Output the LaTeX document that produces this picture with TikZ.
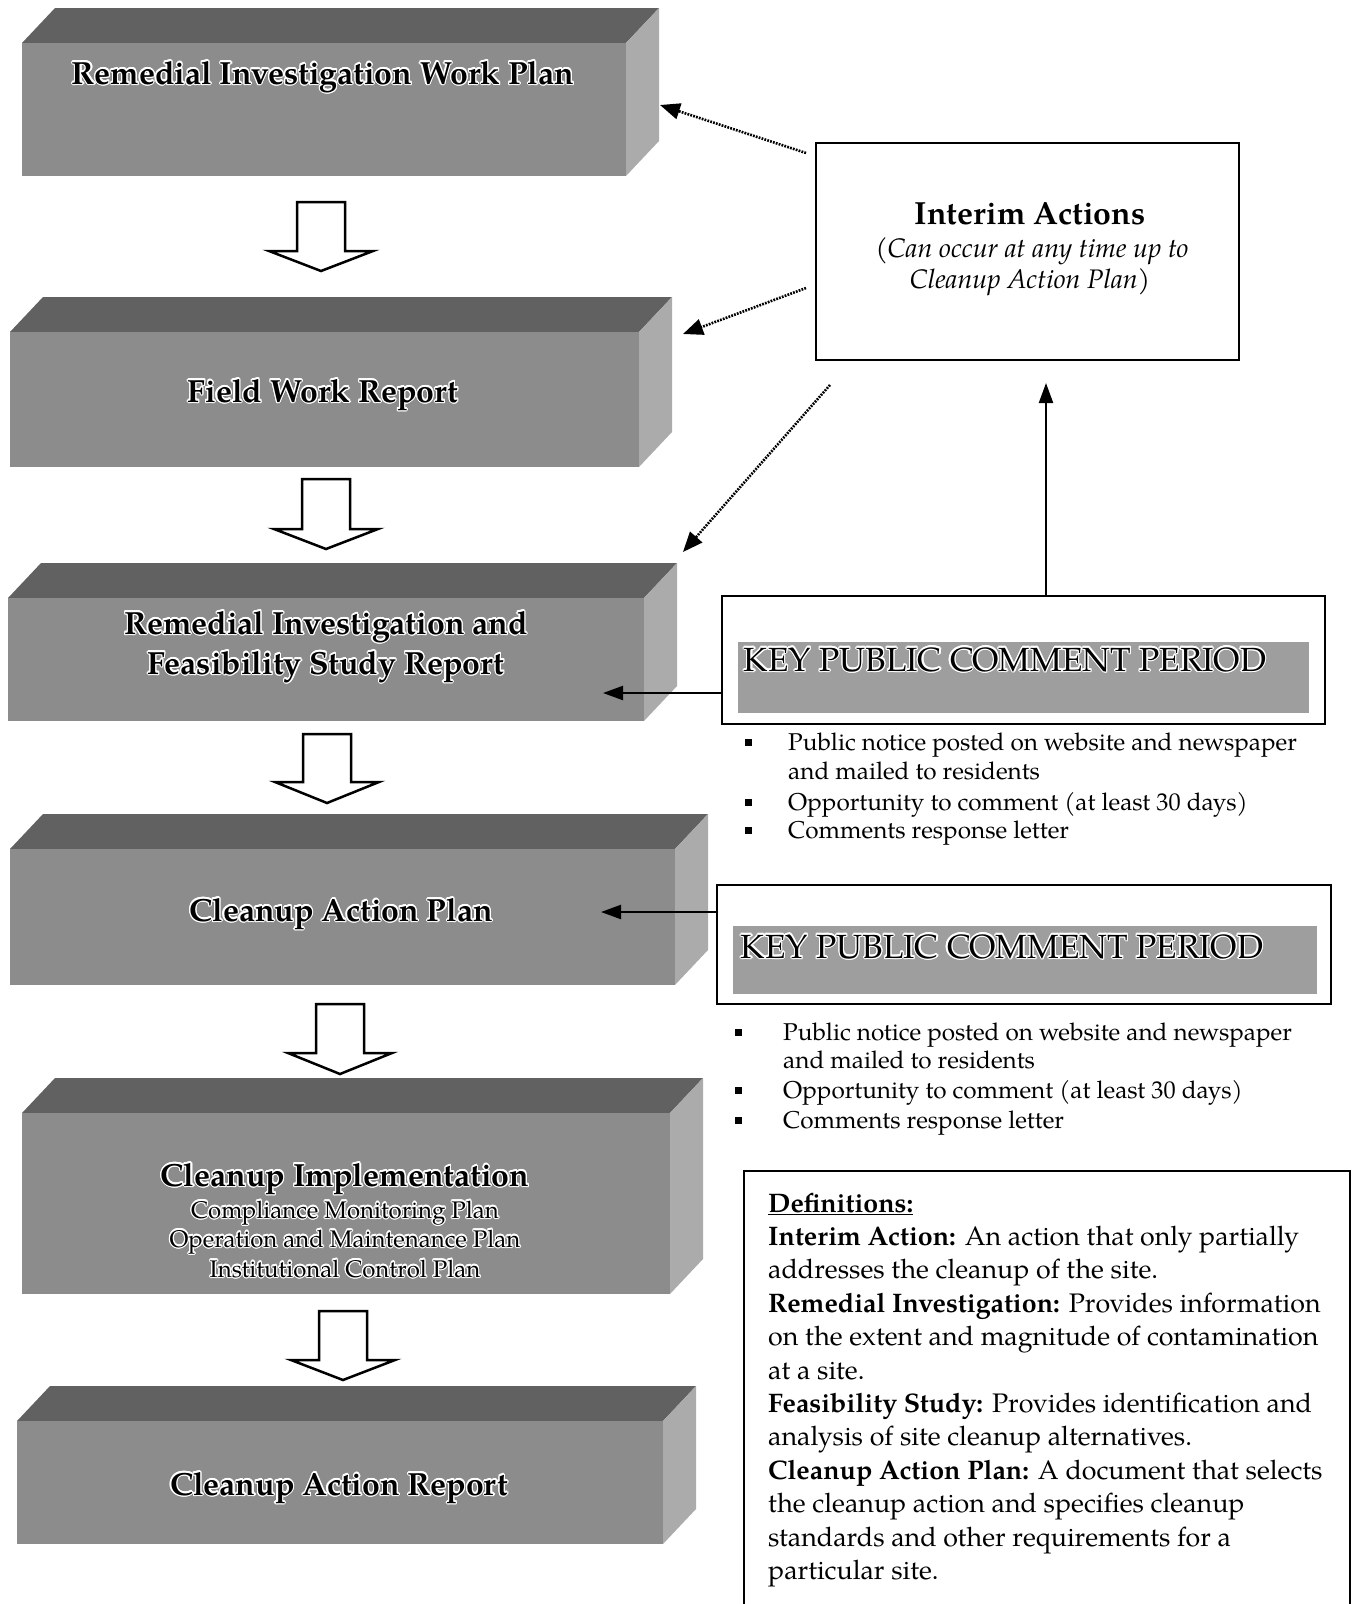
\documentclass[tikz,border=0pt]{standalone}
\usepackage{fontspec}
\setmainfont{TeX Gyre Pagella}
\usepackage[copies]{contour}
\contourlength{1.2pt}
\usetikzlibrary{arrows.meta}
\newcommand\halo[1]{\contour{white}{#1}}
\newcommand\slab[5]{%
  \fill[topf] (#1,#2) -- ({#1+33},{#2-35}) -- ({#3+33},{#2-35}) -- (#3,#2) -- cycle;
  \fill[sidef] (#3,#2) -- ({#3+33},{#2-35}) -- ({#3+33},{#4-35}) -- (#3,#4) -- cycle;
  \fill[frontf] (#1,#2) rectangle (#3,#4);
  \coordinate (#5) at ({(#1+#3)/2},{(#2+#4)/2});
}
\newcommand\blockarrow[5]{%
  \draw[blk] ({#1-24},#2) -- ({#1+24},#2) -- ({#1+24},#3) -- ({#1+52},#3) -- (#1,#4) -- ({#1-52},#3) -- ({#1-24},#3) -- cycle;
  \coordinate (#5) at (#1,#4);
}
\begin{document}
\begin{tikzpicture}[x=1pt,y=-1pt,
  frontf/.style={fill=black!45},
  topf/.style={fill=black!62},
  sidef/.style={fill=black!33},
  btitle/.style={anchor=base, inner sep=0pt, font=\fontsize{32}{36}\selectfont\bfseries},
  bsub/.style={anchor=base, inner sep=0pt, font=\fontsize{24}{28}\selectfont},
  blk/.style={draw=black, line width=2.5pt, fill=white, line join=miter},
  dotarr/.style={line width=2.6pt, dash pattern=on 1.8pt off 1.2pt, -{Triangle[length=20pt,width=16pt]}},
  solarr/.style={line width=2.2pt, -{Triangle[length=20pt,width=14pt]}},
  framebox/.style={draw, line width=2.5pt, inner sep=0pt},
  bandf/.style={fill=black!38},
  kptext/.style={anchor=base, inner sep=0pt, font=\fontsize{33.5}{36}\selectfont},
  itext/.style={anchor=base, inner sep=0pt},
  btext/.style={anchor=base west, inner sep=0pt, font=\fontsize{24.3}{29}\selectfont},
  dtext/.style={anchor=base west, inner sep=0pt, font=\fontsize{26.8}{33}\selectfont},
  bul/.style={fill=black, minimum size=7pt, inner sep=0pt},
]
\useasboundingbox (0,0) rectangle (1357,1604);

% ---- 3D slabs ----
\slab{22}{43}{626}{176}{s1}
\slab{10}{332}{639}{467}{s2}
\slab{8}{598}{644}{721}{s3}
\slab{10}{849}{675}{985}{s4}
\slab{22}{1113}{670}{1294}{s5}
\slab{17}{1421}{663}{1544}{s6}

\node[btitle] (t1) at (323,84) {\halo{Remedial Investigation Work Plan}};
\node[btitle] (t2) at (323,402) {\halo{Field Work Report}};
\node[btitle] (t3a) at (326,634) {\halo{Remedial Investigation and}};
\node[btitle] (t3b) at (326,674) {\halo{Feasibility Study Report}};
\node[btitle] (t4) at (341,921) {\halo{Cleanup Action Plan}};
\node[btitle] (t5) at (345,1186) {\halo{Cleanup Implementation}};
\node[bsub] (t5a) at (345,1218) {\halo{Compliance Monitoring Plan}};
\node[bsub] (t5b) at (345,1247) {\halo{Operation and Maintenance Plan}};
\node[bsub] (t5c) at (345,1277) {\halo{Institutional Control Plan}};
\node[btitle] (t6) at (339,1495) {\halo{Cleanup Action Report}};

% ---- block arrows ----
\blockarrow{321}{202}{251}{271}{a1}
\blockarrow{326}{479}{529}{549}{a2}
\blockarrow{327}{734}{782}{803}{a3}
\blockarrow{340}{1004}{1053}{1074}{a4}
\blockarrow{343}{1311}{1360}{1380}{a5}

% ---- Interim actions ----
\node[framebox, minimum width=423pt, minimum height=217pt] (ia) at (1027.5,251.5) {};
\node[itext, font=\fontsize{32}{34}\selectfont\bfseries] (ia1) at (1030,224) {Interim Actions};
\node[itext, font=\fontsize{26.8}{30}\selectfont\itshape] (ia2) at (1032,257) {(Can occur at any time up to};
\node[itext, font=\fontsize{26.8}{30}\selectfont\itshape] (ia3) at (1030,288) {Cleanup Action Plan)};

\coordinate (d1s) at (806,153); \coordinate (d1e) at (660,105);
\coordinate (d2s) at (806,288); \coordinate (d2e) at (683,334);
\coordinate (d3s) at (830,385); \coordinate (d3e) at (683,552);
\draw[dotarr] (d1s) -- (d1e);
\draw[dotarr] (d2s) -- (d2e);
\draw[dotarr] (d3s) -- (d3e);

% ---- Key public comment period 1 ----
\node[framebox, minimum width=603pt, minimum height=128pt] (kp1) at (1023.5,660) {};
\fill[bandf] (738,642) rectangle (1309,713);
\node[kptext] (kp1t) at (1005,671) {\halo{KEY PUBLIC COMMENT PERIOD}};
\coordinate (iaIn) at (1046,383);
\draw[solarr] (kp1.north -| iaIn) -- (iaIn);
\coordinate (rifsIn) at (603,693);
\draw[solarr] (kp1.west |- rifsIn) -- (rifsIn);

\node[bul] (b11) at (748,742) {};
\node[btext] (l11) at (788,750) {Public notice posted on website and newspaper};
\node[btext] (l12) at (788,779) {and mailed to residents};
\node[bul] (b12) at (748,802) {};
\node[btext] (l13) at (788,810) {Opportunity to comment (at least 30 days)};
\node[bul] (b13) at (748,830) {};
\node[btext] (l14) at (788,838) {Comments response letter};

% ---- Key public comment period 2 ----
\node[framebox, minimum width=614pt, minimum height=119pt] (kp2) at (1024,944.5) {};
\fill[bandf] (733,926) rectangle (1317,994);
\node[kptext] (kp2t) at (1002,958) {\halo{KEY PUBLIC COMMENT PERIOD}};
\coordinate (capIn) at (601,912);
\draw[solarr] (kp2.west |- capIn) -- (capIn);

\node[bul] (b21) at (738,1032) {};
\node[btext] (l21) at (783,1040) {Public notice posted on website and newspaper};
\node[btext] (l22) at (783,1068) {and mailed to residents};
\node[bul] (b22) at (738,1090) {};
\node[btext] (l23) at (783,1098) {Opportunity to comment (at least 30 days)};
\node[bul] (b23) at (738,1120) {};
\node[btext] (l24) at (783,1128) {Comments response letter};

% ---- Definitions ----
\draw[line width=2pt] (744,1610) -- (744,1171) -- (1350,1171) -- (1350,1610);
\node[dtext] (d0) at (768,1212) {\underline{\textbf{Definitions:}}};
\node[dtext] (d1) at (768,1245.4) {\textbf{Interim Action:} An action that only partially};
\node[dtext] (d2) at (768,1278.8) {addresses the cleanup of the site.};
\node[dtext] (d3) at (768,1312.2) {\textbf{Remedial Investigation:} Provides information};
\node[dtext] (d4) at (768,1345.6) {on the extent and magnitude of contamination};
\node[dtext] (d5) at (768,1379) {at a site.};
\node[dtext] (d6) at (768,1412.4) {\textbf{Feasibility Study:} Provides identification and};
\node[dtext] (d7) at (768,1445.8) {analysis of site cleanup alternatives.};
\node[dtext] (d8) at (768,1479.2) {\textbf{Cleanup Action Plan:} A document that selects};
\node[dtext] (d9) at (768,1512.6) {the cleanup action and specifies cleanup};
\node[dtext] (d10) at (768,1546) {standards and other requirements for a};
\node[dtext] (d11) at (768,1579.4) {particular site.};
\end{tikzpicture}
\end{document}
